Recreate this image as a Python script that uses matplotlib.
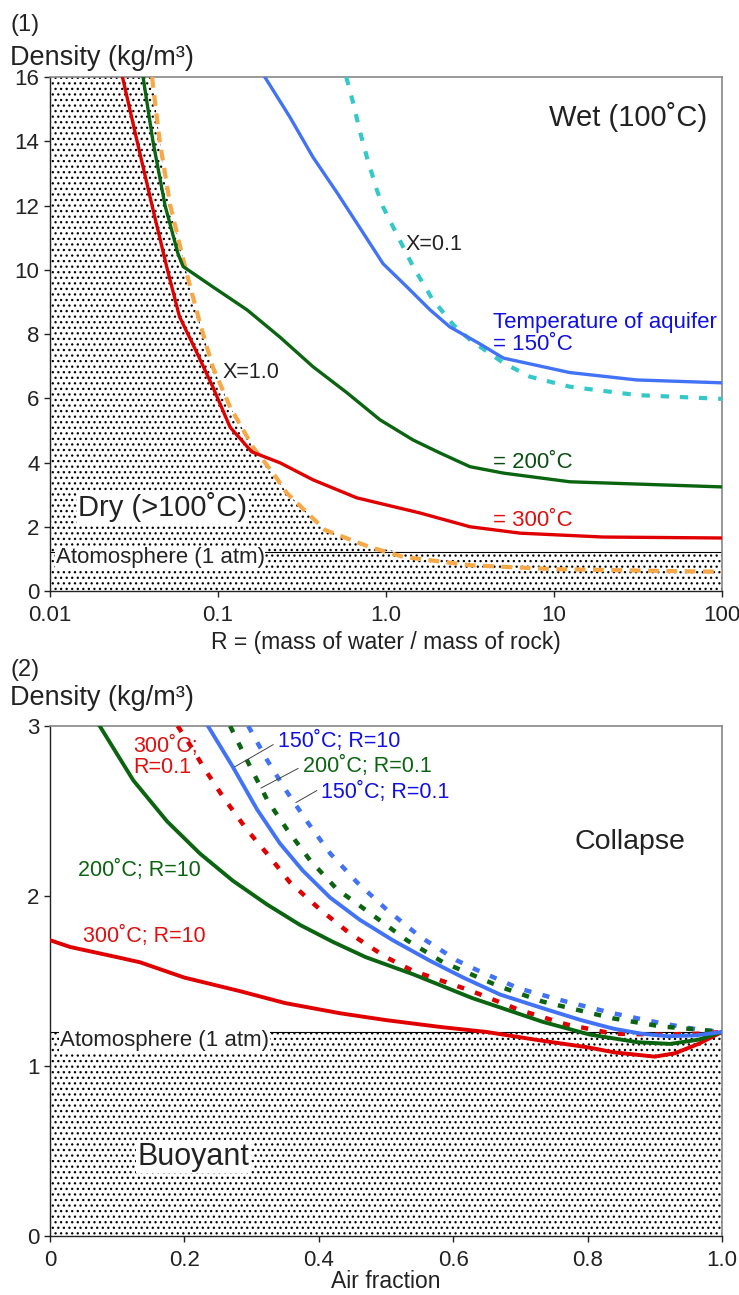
import numpy as np
import matplotlib
matplotlib.use("Agg")
import matplotlib.pyplot as plt

plt.rcParams['font.family'] = ['Liberation Sans', 'DejaVu Sans']
plt.rcParams['hatch.linewidth'] = 0.9

# ---- panel (1): density vs R ----
atm = 1.2

r_x10 = [0.0405, 0.045, 0.052, 0.065, 0.078, 0.093, 0.118, 0.161, 0.212, 0.257, 0.433, 0.80, 1.27, 3.2, 10, 50, 100]
d_x10 = [16, 14, 12, 9.9, 8.35, 6.98, 5.73, 4.49, 3.68, 3.05, 1.9, 1.37, 1.06, 0.8, 0.68, 0.62, 0.6]

r_300 = [0.027, 0.033, 0.0405, 0.050, 0.059, 0.075, 0.093, 0.118, 0.159, 0.234, 0.368, 0.67, 1.59, 3.16, 6.3, 19.6, 100]
d_300 = [16, 14, 12, 10, 8.54, 7.41, 6.36, 5.1, 4.33, 3.99, 3.46, 2.9, 2.43, 2.0, 1.8, 1.68, 1.65]

r_200 = [0.0358, 0.041, 0.0484, 0.0578, 0.062, 0.093, 0.149, 0.234, 0.368, 0.586, 0.92, 1.45, 2.09, 3.16, 5.0, 12.4, 100]
d_200 = [16, 14, 12, 10.5, 10.1, 9.47, 8.75, 7.9, 6.98, 6.17, 5.33, 4.7, 4.3, 3.87, 3.67, 3.4, 3.24]

r_150 = [0.190, 0.268, 0.368, 0.511, 0.70, 0.96, 1.33, 1.83, 2.40, 3.6, 5.0, 12.4, 31, 100]
d_150 = [16, 14.75, 13.5, 12.4, 11.3, 10.19, 9.47, 8.75, 8.22, 7.7, 7.25, 6.8, 6.57, 6.48]

r_x01 = [0.58, 0.637, 0.70, 0.77, 0.88, 0.96, 1.16, 1.45, 1.88, 2.51, 3.16, 5.0, 7.2, 12.4, 31, 100]
d_x01 = [16, 15.2, 14.3, 13.5, 12.5, 11.96, 11.1, 10.1, 9.1, 8.29, 7.82, 7.1, 6.67, 6.36, 6.1, 5.98]

r_ticks = [0.01, 0.1, 1, 10, 100]
r_ticklabels = ["0.01", "0.1", "1.0", "10", "100"]

# ---- panel (2): density vs air fraction ----
air_300_10 = [0, 0.03, 0.1, 0.134, 0.2, 0.283, 0.35, 0.432, 0.5, 0.58, 0.65, 0.73, 0.8, 0.84, 0.9, 0.93, 0.965, 1.0]
den_300_10 = [1.74, 1.70, 1.64, 1.61, 1.52, 1.44, 1.37, 1.31, 1.27, 1.23, 1.2, 1.15, 1.11, 1.08, 1.055, 1.075, 1.13, 1.2]

air_200_10 = [0.074, 0.124, 0.174, 0.223, 0.272, 0.323, 0.372, 0.421, 0.47, 0.54, 0.628, 0.733, 0.803, 0.874, 0.923, 0.965, 1.0]
den_200_10 = [3.0, 2.68, 2.44, 2.25, 2.09, 1.95, 1.83, 1.73, 1.64, 1.54, 1.40, 1.26, 1.185, 1.14, 1.13, 1.155, 1.2]

air_150_10 = [0.235, 0.272, 0.308, 0.342, 0.376, 0.417, 0.461, 0.51, 0.565, 0.615, 0.67, 0.733, 0.79, 0.838, 0.88, 0.92, 0.96, 1.0]
den_150_10 = [3.0, 2.76, 2.51, 2.31, 2.15, 1.99, 1.86, 1.74, 1.62, 1.52, 1.42, 1.34, 1.27, 1.22, 1.19, 1.175, 1.18, 1.2]

air_300_01 = [0.19, 0.213, 0.228, 0.258, 0.293, 0.327, 0.357, 0.402, 0.446, 0.5, 0.54, 0.628, 0.698, 0.768, 0.838, 0.909, 0.965, 1.0]
den_300_01 = [3.0, 2.86, 2.76, 2.58, 2.39, 2.23, 2.08, 1.92, 1.78, 1.64, 1.56, 1.44, 1.33, 1.245, 1.19, 1.185, 1.19, 1.2]

air_200_01 = [0.268, 0.298, 0.324, 0.353, 0.387, 0.427, 0.476, 0.531, 0.585, 0.67, 0.733, 0.838, 0.909, 0.965, 1.0]
den_200_01 = [3.0, 2.76, 2.56, 2.39, 2.21, 2.04, 1.90, 1.74, 1.61, 1.466, 1.379, 1.28, 1.233, 1.214, 1.2]

air_150_01 = [0.295, 0.323, 0.353, 0.384, 0.417, 0.457, 0.501, 0.551, 0.606, 0.635, 0.698, 0.768, 0.838, 0.909, 0.965, 1.0]
den_150_01 = [3.0, 2.80, 2.61, 2.43, 2.25, 2.08, 1.92, 1.76, 1.62, 1.565, 1.456, 1.379, 1.31, 1.252, 1.214, 1.2]

RED = "#e00000"
GREEN = "#0a6410"
BLUE = "#4272f5"
CYAN = "#35c8c8"
ORANGE = "#f7a94a"
INK = "#222222"

fig = plt.figure(figsize=(7.39, 12.95), dpi=100)
W, H = 739, 1295


def px_axes(l, t, r, b):
    return fig.add_axes([l / W, 1 - b / H, (r - l) / W, (b - t) / H])


def style(ax):
    for s in ["top", "right"]:
        ax.spines[s].set_color("#888888")
        ax.spines[s].set_linewidth(1.2)
    for s in ["left", "bottom"]:
        ax.spines[s].set_color(INK)
        ax.spines[s].set_linewidth(1.0)
    ax.tick_params(direction="out", length=4, width=1, labelsize=16, colors=INK)
    ax.tick_params(axis="x", pad=6)


# ---------- panel 1 ----------
ax1 = px_axes(50, 77, 722, 591)
ax1.set_xscale("log")
ax1.set_xlim(0.01, 100)
ax1.set_ylim(0, 16)

hatch_r = [0.01] + r_x10
hatch_top = [16] + [max(d, atm) for d in d_x10]
ax1.fill_between(hatch_r, 0, hatch_top, facecolor="white", edgecolor="black",
                 hatch="...", linewidth=0, zorder=1)
ax1.axhline(atm, color="black", lw=0.8, zorder=2)

ax1.plot(r_300, d_300, color=RED, lw=2.4, zorder=4)
ax1.plot(r_200, d_200, color=GREEN, lw=2.4, zorder=4)
ax1.plot(r_150, d_150, color=BLUE, lw=2.4, zorder=4)
ax1.plot(r_x01, d_x01, color=CYAN, lw=3.0, ls=(0, (2, 2.6)), zorder=3)
ax1.plot(r_x10, d_x10, color=ORANGE, lw=3.0, ls=(0, (2.6, 1.8)), zorder=3)

ax1.set_xticks(r_ticks)
ax1.set_xticklabels(r_ticklabels)
ax1.xaxis.set_minor_locator(matplotlib.ticker.NullLocator())
ax1.set_yticks(np.arange(0, 17, 2))
style(ax1)

ax1.text(82, 14.75, "Wet (100˚C)", fontsize=21, ha="right", va="center", color=INK)
ax1.text(1.30, 10.8, "X=0.1", fontsize=15.5, ha="left", va="center", color=INK)
ax1.text(0.106, 6.8, "X=1.0", fontsize=15.5, ha="left", va="center", color=INK)
ax1.text(4.33, 8.35, "Temperature of aquifer", fontsize=16, ha="left", va="center", color="#1010e0")
ax1.text(4.33, 7.66, "= 150˚C", fontsize=16, ha="left", va="center", color="#1010e0")
ax1.text(4.33, 4.0, "= 200˚C", fontsize=16, ha="left", va="center", color="#0a5010")
ax1.text(4.33, 2.2, "= 300˚C", fontsize=16, ha="left", va="center", color="#e01010")
ax1.text(0.0147, 2.6, "Dry (>100˚C)", fontsize=21, ha="left", va="center", color=INK,
         bbox=dict(facecolor="white", edgecolor="none", pad=1), zorder=5)
ax1.text(0.0108, 1.03, "Atomosphere (1 atm)", fontsize=16, ha="left", va="center", color=INK,
         bbox=dict(facecolor="white", edgecolor="none", pad=0.5), zorder=5)

fig.text(10 / W, 1 - 25 / H, "(1)", fontsize=17, ha="left", va="center", color=INK)
fig.text(10 / W, 1 - 58 / H, "Density (kg/m³)", fontsize=19.5, ha="left", va="center", color=INK)
fig.text(386 / W, 1 - 643 / H, "R = (mass of water / mass of rock)", fontsize=16.5, ha="center",
         va="center", color=INK)

# ---------- panel 2 ----------
ax2 = px_axes(50, 726, 722, 1236)
ax2.set_xlim(0, 1)
ax2.set_ylim(0, 3)
ax2.fill_between([0, 1], 0, atm, facecolor="white", edgecolor="black",
                 hatch="...", linewidth=0, zorder=1)
ax2.axhline(atm, color="black", lw=0.8, zorder=2)

dots = (0, (1.6, 2.6))
ax2.plot(air_150_01, den_150_01, color=BLUE, lw=3.2, ls=dots, zorder=3)
ax2.plot(air_200_01, den_200_01, color=GREEN, lw=3.2, ls=dots, zorder=3)
ax2.plot(air_300_01, den_300_01, color=RED, lw=3.2, ls=dots, zorder=3)
ax2.plot(air_300_10, den_300_10, color=RED, lw=2.8, zorder=4)
ax2.plot(air_200_10, den_200_10, color=GREEN, lw=2.8, zorder=4)
ax2.plot(air_150_10, den_150_10, color=BLUE, lw=2.8, zorder=4)

ax2.set_xticks([0, 0.2, 0.4, 0.6, 0.8, 1.0])
ax2.set_xticklabels(["0", "0.2", "0.4", "0.6", "0.8", "1.0"])
ax2.set_yticks([0, 1, 2, 3])
style(ax2)

ax2.text(0.124, 2.82, "300˚C;\nR=0.1", fontsize=15.5, ha="left", va="center", color="#e01010",
         linespacing=1.0)
ax2.text(0.339, 2.91, "150˚C; R=10", fontsize=15.5, ha="left", va="center", color="#1010e0")
ax2.text(0.376, 2.76, "200˚C; R=0.1", fontsize=15.5, ha="left", va="center", color="#0a6410")
ax2.text(0.403, 2.61, "150˚C; R=0.1", fontsize=15.5, ha="left", va="center", color="#1010e0")
ax2.text(0.042, 2.15, "200˚C; R=10", fontsize=15.5, ha="left", va="center", color="#0a6410")
ax2.text(0.049, 1.76, "300˚C; R=10", fontsize=15.5, ha="left", va="center", color="#e01010")
ax2.text(0.781, 2.32, "Collapse", fontsize=20.5, ha="left", va="center", color=INK)
ax2.text(0.13, 0.465, "Buoyant", fontsize=22, ha="left", va="center", color=INK,
         bbox=dict(facecolor="white", edgecolor="none", pad=1), zorder=5)
ax2.text(0.015, 1.15, "Atomosphere (1 atm)", fontsize=16, ha="left", va="center", color=INK,
         bbox=dict(facecolor="white", edgecolor="none", pad=0.5), zorder=5)

ax2.plot([0.275, 0.332], [2.76, 2.89], color="#444444", lw=0.7, zorder=5)
ax2.plot([0.314, 0.369], [2.635, 2.75], color="#444444", lw=0.7, zorder=5)
ax2.plot([0.366, 0.397], [2.55, 2.62], color="#444444", lw=0.7, zorder=5)

fig.text(10 / W, 1 - 670 / H, "(2)", fontsize=17, ha="left", va="center", color=INK)
fig.text(10 / W, 1 - 698 / H, "Density (kg/m³)", fontsize=19.5, ha="left", va="center", color=INK)
fig.text(386 / W, 1 - 1282 / H, "Air fraction", fontsize=16.5, ha="center", va="center", color=INK)

fig.savefig("out.png", dpi=100)
